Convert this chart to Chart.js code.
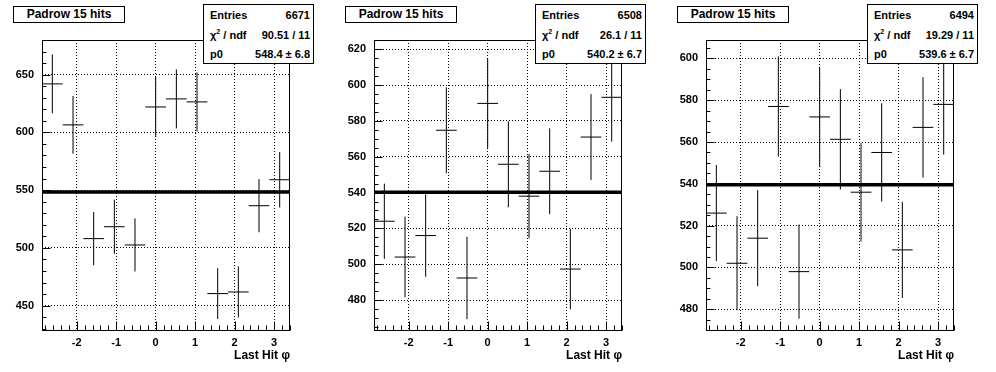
<!DOCTYPE html>
<html>
<head>
<meta charset="utf-8">
<script src="https://cdn.jsdelivr.net/npm/chart.js@4.4.1/dist/chart.umd.min.js"></script>
<style>
body{margin:0;background:#fff;width:996px;height:372px;overflow:hidden;font-family:"Liberation Sans",Arial,sans-serif;}
.pad{position:absolute;top:0;width:332px;height:372px;}
.pad canvas{position:absolute;left:0;top:0;}
.title{position:absolute;left:13px;top:6px;width:112px;height:17px;box-sizing:border-box;border:1px solid #000;background:#fff;font-weight:bold;font-size:12px;text-align:center;line-height:15px;}
.stats{position:absolute;left:203px;top:4px;width:111px;height:60px;box-sizing:border-box;border:1px solid #000;background:#fff;font-weight:bold;font-size:11px;}
.stats .row{position:absolute;left:6px;right:3px;height:14px;line-height:14px;}
.stats .v{position:absolute;right:0;top:0;}
sup{font-size:7px;vertical-align:5px;line-height:0;}
</style>
</head>
<body>
<div id="pads"></div>
<script>
// --- DATA ---
const binCenters = [-2.618,-2.094,-1.571,-1.047,-0.524,0,0.524,1.047,1.571,2.094,2.618,3.142];
const binHalfWidth = 0.262;
const xRange = [-2.880, 3.403];
const xTickValues = [-2,-1,0,1,2,3];

const values1 = [642,606.5,508,518.3,502.5,622,629,626.4,460.4,461.8,536.5,559];
const errors1 = [25.5,25,23,23.5,23,26,25.5,25.6,22,22,23,24];
const values2 = [524,504,516,574.8,492.3,589.8,555.8,538,551.9,497.3,571,593.2];
const errors2 = [21,22.5,23,24,23,25,24,23.5,24,22.5,24,24.8];
const values3 = [526,502,514,577,498,572,561.3,536,555,508.4,567,578];
const errors3 = [23,22.5,23,24,22.5,24,24,23.5,23.5,23,24,24];

const yTicks1 = [450,500,550,600,650];
const yTicks2 = [480,500,520,540,560,580,600,620];
const yTicks3 = [480,500,520,540,560,580,600];

const panels = [
    { values: values1, errors: errors1, yMin: 428, yMax: 680, yTicks: yTicks1, yMinor: 10,
      entries: '6671', chi2: '90.51 / 11', p0: 548.4, p0err: 6.8 },
    { values: values2, errors: errors2, yMin: 462.7, yMax: 625.2, yTicks: yTicks2, yMinor: 5,
      entries: '6508', chi2: '26.1 / 11', p0: 540.2, p0err: 6.7 },
    { values: values3, errors: errors3, yMin: 469.6, yMax: 608.8, yTicks: yTicks3, yMinor: 5,
      entries: '6494', chi2: '19.29 / 11', p0: 539.6, p0err: 6.7 }
];

const FONT = '"Liberation Sans", Arial, sans-serif';

// frame + ROOT style inward tick marks
const frameTicks = {
    id: 'frameTicks',
    afterDraw(chart, args, opts){
        const { ctx, chartArea: a, scales: { x, y } } = chart;
        const L = Math.round(a.left) + 0.5, R = Math.round(a.right) - 0.5;
        const T = Math.round(a.top) + 0.5, B = Math.round(a.bottom) - 0.5;
        ctx.save();
        ctx.strokeStyle = '#000';
        ctx.lineWidth = 1;
        ctx.beginPath();
        for(let k = -14; k <= 17; k++){
            const v = k / 5;
            const px = Math.round(x.getPixelForValue(v)) + 0.5;
            const len = (k % 5 === 0) ? 9 : 5;
            ctx.moveTo(px, B); ctx.lineTo(px, B - len);
        }
        const step = opts.yMinor;
        for(let v = Math.ceil(y.min / step) * step; v <= y.max; v += step){
            const py = Math.round(y.getPixelForValue(v)) + 0.5;
            const major = opts.yTicks.includes(v);
            ctx.moveTo(L, py); ctx.lineTo(L + (major ? 8 : 4), py);
        }
        ctx.stroke();
        ctx.strokeRect(L, T, R - L, B - L > 0 ? B - T : 0);
        ctx.restore();
    }
};

function buildDatasets(p){
    const hSeg = [], vSeg = [];
    binCenters.forEach((c, i) => {
        const v = p.values[i], e = p.errors[i];
        hSeg.push({ x: c - binHalfWidth, y: v }, { x: c + binHalfWidth, y: v }, { x: c, y: null });
        vSeg.push({ x: c, y: v - e }, { x: c, y: v + e }, { x: c, y: null });
    });
    const common = { showLine: true, spanGaps: false, pointRadius: 0, borderColor: '#000', borderWidth: 1, fill: false };
    return [
        { ...common, label: 'fit', data: [{ x: xRange[0], y: p.p0 }, { x: xRange[1], y: p.p0 }], borderWidth: 3.5 },
        { ...common, label: 'bins', data: hSeg },
        { ...common, label: 'errors', data: vSeg }
    ];
}

const pads = document.getElementById('pads');
panels.forEach((p, idx) => {
    const pad = document.createElement('div');
    pad.className = 'pad';
    pad.style.left = (idx * 332) + 'px';
    pad.innerHTML =
        '<canvas width="332" height="372"></canvas>' +
        '<div class="title">Padrow 15 hits</div>' +
        '<div class="stats">' +
        '<div class="row" style="top:3px">Entries<span class="v">' + p.entries + '</span></div>' +
        '<div class="row" style="top:23px">χ<sup>2</sup> / ndf<span class="v">' + p.chi2 + '</span></div>' +
        '<div class="row" style="top:42px">p0<span class="v">' + p.p0.toFixed(1) + ' ± ' + p.p0err.toFixed(1) + '</span></div>' +
        '</div>';
    pads.appendChild(pad);
    const canvas = pad.querySelector('canvas');

    new Chart(canvas, {
        type: 'scatter',
        data: { datasets: buildDatasets(p) },
        plugins: [frameTicks],
        options: {
            responsive: false,
            animation: false,
            devicePixelRatio: 1,
            layout: { padding: { top: 40, right: 42, left: 0, bottom: 0 } },
            plugins: {
                legend: { display: false },
                tooltip: { enabled: false },
                frameTicks: { yMinor: p.yMinor, yTicks: p.yTicks }
            },
            scales: {
                x: {
                    type: 'linear',
                    min: xRange[0], max: xRange[1],
                    afterBuildTicks: s => { s.ticks = xTickValues.map(v => ({ value: v })); },
                    afterFit: s => { s.height = 41; },
                    grid: { color: '#000', lineWidth: 1, drawTicks: false },
                    border: { display: false, dash: [1, 2] },
                    ticks: { color: '#000', padding: 5, font: { family: FONT, size: 11, weight: 'bold' }, maxRotation: 0 },
                    title: { display: true, text: 'Last Hit φ', align: 'end', color: '#000',
                             font: { family: FONT, size: 12, weight: 'bold' }, padding: { top: 0, bottom: 9 } }
                },
                y: {
                    type: 'linear',
                    min: p.yMin, max: p.yMax,
                    afterBuildTicks: s => { s.ticks = p.yTicks.map(v => ({ value: v })); },
                    afterFit: s => { s.width = 42; },
                    grid: { color: '#000', lineWidth: 1, drawTicks: false },
                    border: { display: false, dash: [1, 2] },
                    ticks: { color: '#000', padding: 8, font: { family: FONT, size: 11, weight: 'bold' } }
                }
            }
        }
    });
});
</script>
</body>
</html>
